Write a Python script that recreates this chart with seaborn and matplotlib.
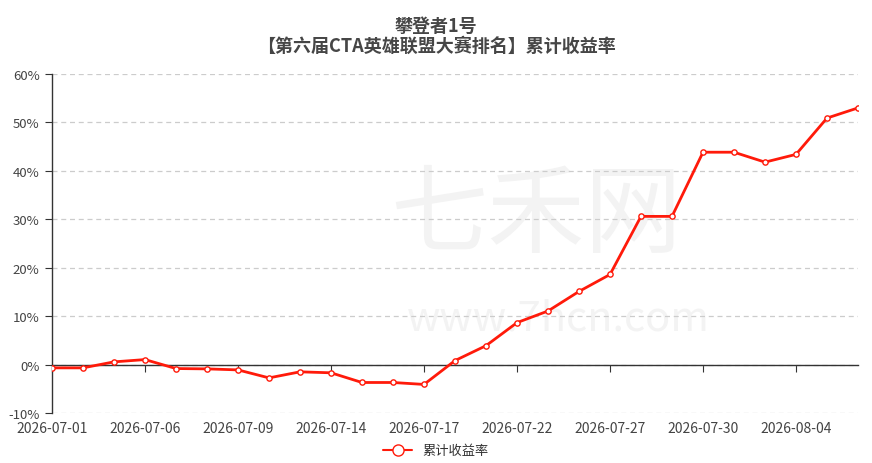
import pandas as pd
import matplotlib.pyplot as plt
import seaborn as sns
from matplotlib.ticker import FuncFormatter
from matplotlib.lines import Line2D

dates = [
    '2026-07-01', '2026-07-02', '2026-07-03', '2026-07-06', '2026-07-07',
    '2026-07-08', '2026-07-09', '2026-07-10', '2026-07-13', '2026-07-14',
    '2026-07-15', '2026-07-16', '2026-07-17', '2026-07-20', '2026-07-21',
    '2026-07-22', '2026-07-23', '2026-07-24', '2026-07-27', '2026-07-28',
    '2026-07-29', '2026-07-30', '2026-07-31', '2026-08-03', '2026-08-04',
    '2026-08-05', '2026-08-06'
]
returns = [
    -0.68, -0.68, 0.56, 1.03, -0.82, -0.89, -1.10, -2.75, -1.50, -1.70,
    -3.70, -3.70, -4.10, 0.82, 3.90, 8.66, 11.06, 15.10, 18.60, 30.60,
    30.60, 43.85, 43.85, 41.80, 43.40, 50.90, 53.00
]
title = '攀登者1号\n【第六届CTA英雄联盟大赛排名】累计收益率'
series_name = '累计收益率'

df = pd.DataFrame({'date': dates, 'ret': returns})
df['idx'] = range(len(df))

sns.set_style('white')
plt.rcParams['font.family'] = ['Noto Sans CJK SC', 'DejaVu Sans']

fig = plt.figure(figsize=(8.72, 4.64), dpi=100)
ax = fig.add_axes([52 / 872, 1 - 414 / 464, (858 - 52) / 872, (414 - 75) / 464])

# watermark
ax.text(0.42, 0.58, '七禾网', transform=ax.transAxes, ha='left', va='center',
        fontsize=70, color='#f3f3f3', zorder=0)
ax.text(0.44, 0.28, 'www.7hcn.com', transform=ax.transAxes, ha='left', va='center',
        fontsize=30, color='#f3f3f3', zorder=0)

sns.lineplot(data=df, x='idx', y='ret', ax=ax, color='#ff1a0a', linewidth=2,
             marker='o', markersize=3.8, markerfacecolor='white',
             markeredgecolor='#ff1a0a', markeredgewidth=1.0, zorder=3)

ax.set_xlim(0, len(df) - 1)
ax.set_ylim(-10, 60)
ax.set_yticks(range(-10, 61, 10))
ax.yaxis.set_major_formatter(FuncFormatter(lambda v, p: f'{v:.0f}%'))
ax.yaxis.grid(True, linestyle=(0, (4, 3)), color='#cccccc', linewidth=0.9)
ax.set_xlabel('')
ax.set_ylabel('')

for s in ['top', 'right']:
    ax.spines[s].set_visible(False)
ax.spines['left'].set_color('#333333')
ax.spines['left'].set_linewidth(1)
ax.spines['bottom'].set_position(('data', 0))
ax.spines['bottom'].set_color('#333333')
ax.spines['bottom'].set_linewidth(1)

tick_idx = list(range(0, len(df), 3))
ax.set_xticks(tick_idx)
ax.tick_params(axis='x', length=5, color='#333333', labelbottom=False, bottom=True)
ax.tick_params(axis='y', length=5, color='#333333', labelsize=9.5, labelcolor='#444444', pad=4, left=True)

sec = ax.secondary_xaxis('bottom')
sec.set_xticks(tick_idx)
sec.set_xticklabels([df['date'][i] for i in tick_idx])
sec.tick_params(length=0, labelsize=10, labelcolor='#444444', pad=6)
sec.spines['bottom'].set_visible(False)

fig.suptitle(title, y=1 - 17 / 464, fontsize=13, fontweight='bold', color='#464646',
             linespacing=1.05, va='top')

handle = Line2D([], [], color='#ff1a0a', linewidth=1.5, marker='o', markersize=8,
                markerfacecolor='white', markeredgecolor='#ff1a0a')
fig.legend([handle], [series_name], loc='center', bbox_to_anchor=(0.5, 1 - 452 / 464),
           frameon=False, fontsize=9.5, handlelength=2.2, labelcolor='#333333')

fig.savefig('out.png', dpi=100)
